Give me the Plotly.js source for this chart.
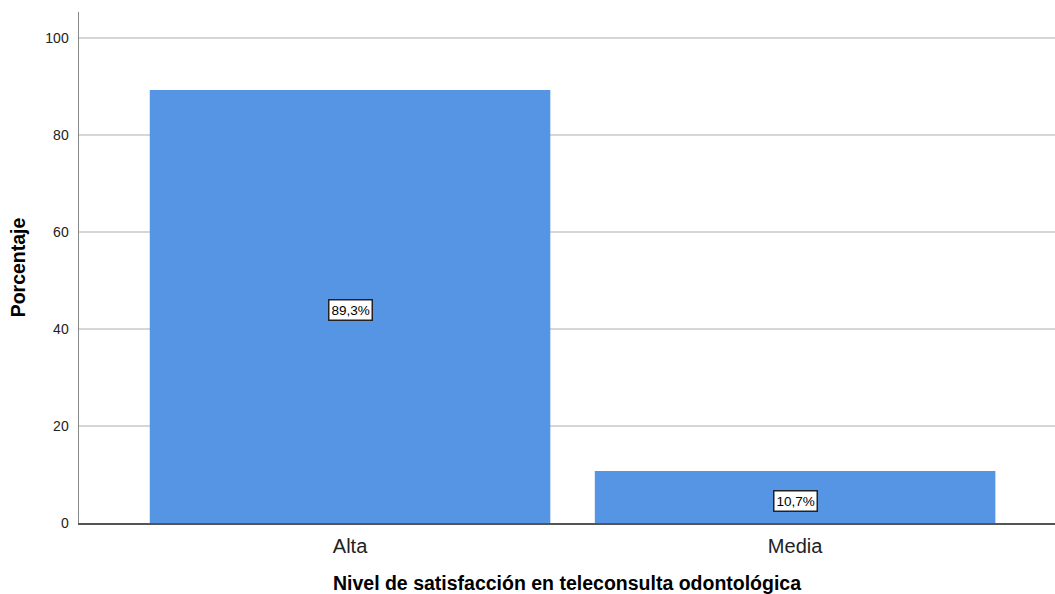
<!DOCTYPE html>
<html>
<head>
<meta charset="utf-8">
<script src="https://cdn.plot.ly/plotly-3.0.1.min.js"></script>
<style>html,body{margin:0;padding:0;background:#fff;}#chart{width:1055px;height:594px;}</style>
</head>
<body>
<div id="chart"></div>
<script>
const categories = ["Alta", "Media"];
const percentages = [89.3, 10.7];
const labels = ["89,3%", "10,7%"];
const yTicks = [0, 20, 40, 60, 80, 100];

const trace = {
  type: "bar",
  x: categories,
  y: percentages,
  width: 0.9,
  marker: { color: "#5694e4", line: { width: 0 } },
  hoverinfo: "none"
};

const annotations = categories.map((c, i) => ({
  x: c, y: percentages[i] / 2, xref: "x", yref: "y",
  yshift: -4,
  text: labels[i], showarrow: false,
  font: { family: "Liberation Sans, Arial, sans-serif", size: 13.5, color: "#000" },
  bgcolor: "#ffffff", bordercolor: "#222222", borderwidth: 1.5, borderpad: 2
}));

const layout = {
  width: 1055, height: 594,
  margin: { l: 79, r: 0, t: 12, b: 71 },
  paper_bgcolor: "#fff", plot_bgcolor: "#fff",
  showlegend: false,
  font: { family: "Liberation Sans, Arial, sans-serif", color: "#222" },
  xaxis: {
    type: "category",
    range: [-0.609, 1.584],
    showgrid: false, zeroline: false,
    showline: true, linecolor: "#555", linewidth: 1.5,
    ticks: "", ticklabelstandoff: 4,
    tickfont: { size: 20, color: "#222" },
    title: { text: "Nivel de satisfacción en teleconsulta odontológica",
             font: { size: 19.5, color: "#000", family: "Liberation Sans, Arial, sans-serif", weight: "bold" },
             standoff: 21 }
  },
  yaxis: {
    range: [0, 105.36],
    tickvals: yTicks, ticktext: yTicks.map(String),
    showgrid: true, gridcolor: "#d6d6d6", gridwidth: 1.5,
    zeroline: false, showline: true, linecolor: "#888", linewidth: 1.5,
    ticks: "", ticklabelstandoff: 6,
    tickfont: { size: 14, color: "#222" },
    title: { text: "Porcentaje",
             font: { size: 19.5, color: "#000", family: "Liberation Sans, Arial, sans-serif", weight: "bold" },
             standoff: 14 }
  },
  annotations: annotations
};

Plotly.newPlot("chart", [trace], layout, { staticPlot: true, displayModeBar: false });
</script>
</body>
</html>
